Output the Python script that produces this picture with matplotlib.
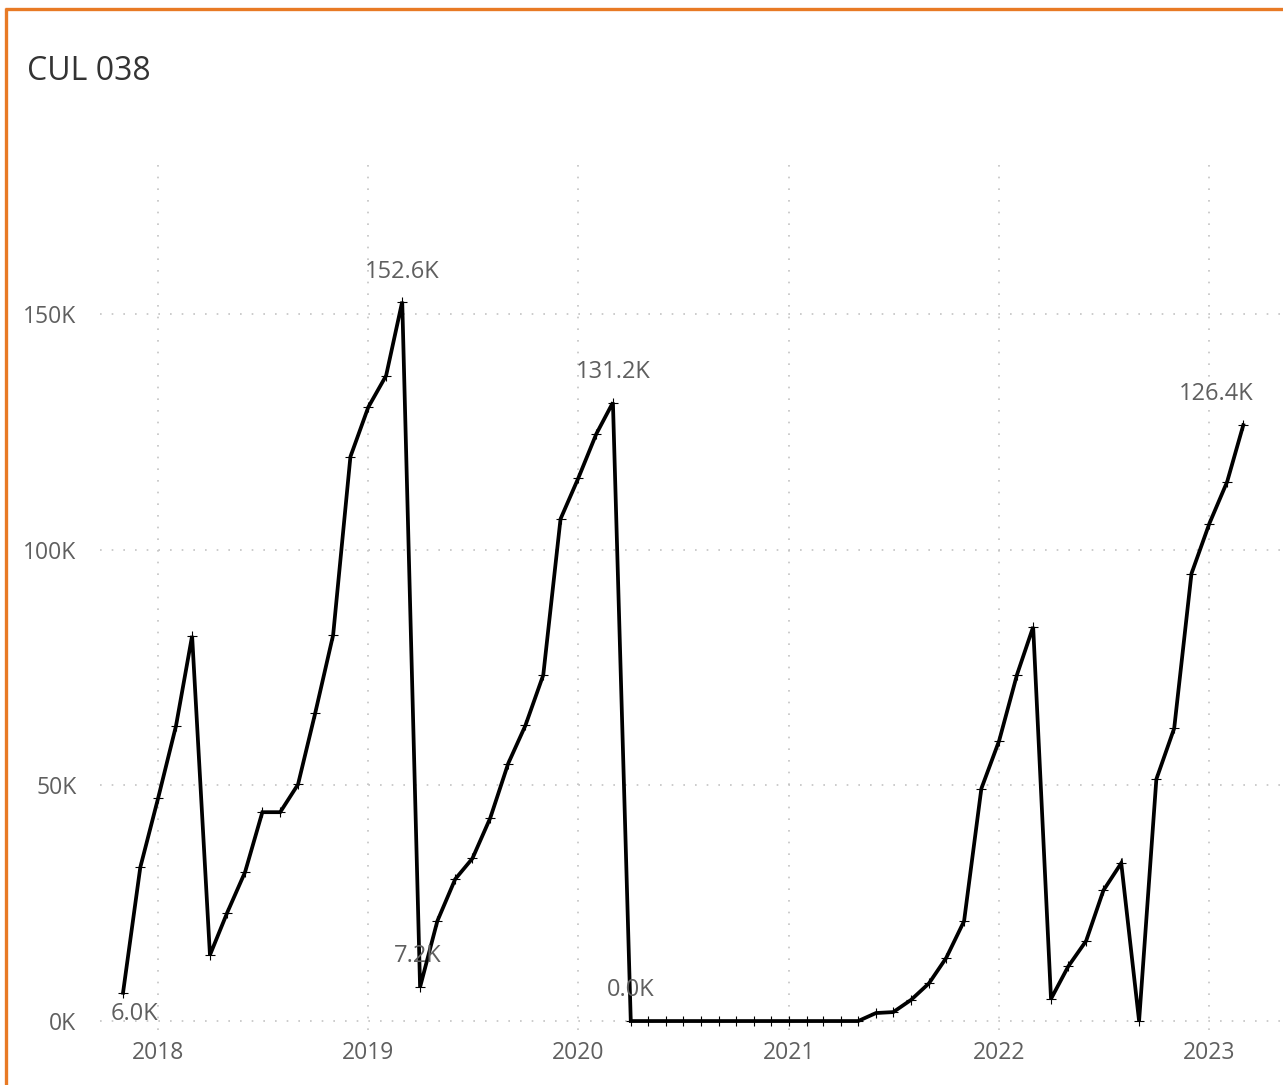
import matplotlib
matplotlib.use("Agg")
import matplotlib.pyplot as plt
from matplotlib.lines import Line2D
import pandas as pd

# Monthly values (thousands), Nov 2017 - Mar 2023
months = pd.date_range("2017-11-01", "2023-03-01", freq="MS")
values_2017 = [6.0, 32.6]
values_2018 = [47.3, 62.6, 81.7, 14.0, 23.0, 31.6, 44.3, 44.3, 50.2, 65.4, 81.9, 119.7]
values_2019 = [130.2, 136.9, 152.6, 7.2, 21.2, 30.1, 34.5, 43.1, 54.6, 62.7, 73.4, 106.5]
values_2020 = [115.2, 124.5, 131.2, 0.0, 0.0, 0.0, 0.0, 0.0, 0.0, 0.0, 0.0, 0.0]
values_2021 = [0.0, 0.0, 0.0, 0.0, 0.0, 1.7, 1.9, 4.5, 8.0, 13.4, 21.2, 49.3]
values_2022 = [59.5, 73.5, 83.6, 4.7, 11.6, 17.0, 27.7, 33.5, 0.0, 51.3, 62.1, 94.9]
values_2023 = [105.5, 114.4, 126.4]
values = (values_2017 + values_2018 + values_2019 + values_2020
          + values_2021 + values_2022 + values_2023)

title = "CUL 038"
y_ticks = [0, 50, 100, 150]
y_tick_labels = ["0K", "50K", "100K", "150K"]
year_ticks = pd.to_datetime(["2018-01-01", "2019-01-01", "2020-01-01",
                             "2021-01-01", "2022-01-01", "2023-01-01"])
year_labels = ["2018", "2019", "2020", "2021", "2022", "2023"]

# Annotated points: (month index, pixel offset of label)
labelled = [(0, (11, -21)), (16, (0, 30)), (17, (-2, 31)),
            (28, (0, 31)), (29, (0, 31)), (64, (-27, 31))]

FONT = ["Open Sans", "DejaVu Sans"]
TEXT_GREY = "#5f5f5f"

W, H = 1283, 1085
fig = plt.figure(figsize=(W / 100, H / 100), dpi=100)
fig.patch.set_facecolor("white")

# Orange frame (top and left edges visible)
fig.add_artist(Line2D([6 / W, 6 / W], [0, 1 - 8 / H], transform=fig.transFigure,
                      color="#E87A25", lw=2.4, solid_capstyle="butt"))
fig.add_artist(Line2D([5 / W, 1], [1 - 9 / H, 1 - 9 / H], transform=fig.transFigure,
                      color="#E87A25", lw=2.4, solid_capstyle="butt"))

fig.text(27 / W, 1 - 71 / H, title, fontsize=23, color="#333333",
         family=FONT, ha="left", va="center")

ax_left, ax_right, ax_top, ax_bottom = 100, 1283, 155, 1030
ax = fig.add_axes([ax_left / W, 1 - ax_bottom / H,
                   (ax_right - ax_left) / W, (ax_bottom - ax_top) / H])

ax.plot(months, values, color="black", lw=2.7, marker="+", markersize=6.5,
        markeredgewidth=0.8, zorder=3, solid_joinstyle="miter")

ax.set_xlim(pd.Timestamp("2017-09-22"), pd.Timestamp("2023-05-09"))
ax.set_ylim(-1.9, 183.7)

ax.set_yticks(y_ticks)
ax.set_yticklabels(y_tick_labels)
ax.set_xticks(year_ticks)
ax.set_xticklabels(year_labels)
ax.tick_params(length=0, labelsize=16.5, labelcolor=TEXT_GREY)
ax.tick_params(axis="y", pad=17)
ax.tick_params(axis="x", pad=8)
for lbl in ax.get_xticklabels() + ax.get_yticklabels():
    lbl.set_family(FONT)

ax.grid(True, color="#c4c4c4", lw=1.2, linestyle=(0, (1, 6)))
ax.set_axisbelow(True)
for s in ax.spines.values():
    s.set_visible(False)

for idx, (dx, dy) in labelled:
    ax.annotate(f"{values[idx]:.1f}K", (months[idx], values[idx]),
                xytext=(dx, dy), textcoords="offset pixels",
                ha="center", va="center", fontsize=17, color=TEXT_GREY,
                family=FONT, zorder=4)

fig.savefig("out.png", dpi=100)
